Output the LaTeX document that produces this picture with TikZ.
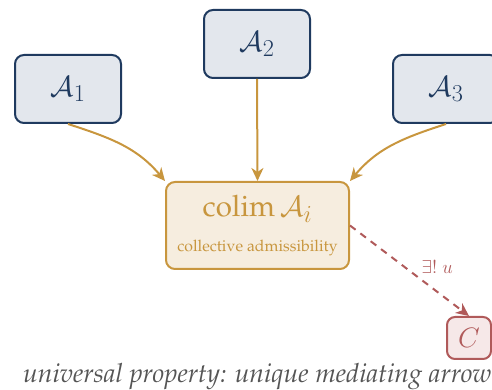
\documentclass[tikz,border=0pt]{standalone}
\usepackage[T1]{fontenc}
\usepackage{palatino}
\usepackage{graphicx}
\usetikzlibrary{arrows.meta}
\definecolor{navy}{HTML}{1F3A5F}
\definecolor{navyfill}{HTML}{E3E7ED}
\definecolor{gold}{HTML}{C8963E}
\definecolor{goldfill}{HTML}{F6EDDF}
\definecolor{rosy}{HTML}{B05A5A}
\definecolor{rosyfill}{HTML}{F6E8E8}
\definecolor{capgray}{HTML}{555555}
\newcommand{\bigmath}[2]{\scalebox{#1}{$#2$}}
\begin{document}
\begin{tikzpicture}[x=1pt,y=1pt,
  srcbox/.style={draw=navy,fill=navyfill,line width=2pt,rounded corners=9pt,
    minimum width=106pt,minimum height=68pt,inner sep=0pt,text=navy,
    font=\fontsize{24.88}{30}\selectfont},
  limbox/.style={draw=gold,fill=goldfill,line width=2pt,rounded corners=9pt,
    minimum width=183pt,minimum height=87pt,inner sep=0pt,text=gold,align=center},
  tgtbox/.style={draw=rosy,fill=rosyfill,line width=2pt,rounded corners=8pt,
    minimum width=44pt,minimum height=42pt,inner sep=0pt,text=rosy,
    font=\fontsize{24.88}{30}\selectfont},
  inj/.style={draw=gold,line width=2pt,-{Stealth[length=13pt,width=12pt,inset=4pt]}},
  med/.style={draw=rosy,line width=2pt,dash pattern=on 7pt off 6pt,
    -{Stealth[length=13pt,width=12pt,inset=4pt]}}
]
\useasboundingbox (0,0) rectangle (492,390);
\clip (0,0) rectangle (492,390);
\node[srcbox] (a1) at (68,301) {\bigmath{1.17}{\mathcal{A}_1}};
\node[srcbox] (a2) at (257,346) {\bigmath{1.17}{\mathcal{A}_2}};
\node[srcbox] (a3) at (446,301) {\bigmath{1.17}{\mathcal{A}_3}};
\node[limbox] (lim) at (257.5,164.5) {};
\node[text=gold,font=\fontsize{29.5}{34}\selectfont,anchor=base] (limt) at (257.5,173) {colim\,\bigmath{1.18}{\mathcal{A}_i}};
\node[text=gold,font=\fontsize{15.8}{18}\selectfont,anchor=base] (limc) at (257.5,138) {collective admissibility};
\node[tgtbox] (c) at (469,52) {\bigmath{1.13}{C}};
\node[text=capgray,font=\fontsize{26.4}{30}\selectfont\itshape,anchor=base west,inner sep=0pt] (cap) at (23,7) {universal property: unique mediating arrow};
\draw[inj] (a1.south) to[out=-18,in=130] (lim.north west);
\draw[inj] (a2.south) -- (lim.north);
\draw[inj] (a3.south) to[out=198,in=50] (lim.north east);
\draw[med] (lim.east) -- node[pos=0.56,above right,text=rosy,font=\fontsize{14.4}{17}\selectfont,inner sep=2pt,xshift=2pt] (ul) {\bigmath{1.3}{\exists!\;u}} (c.north);
\end{tikzpicture}
\end{document}
